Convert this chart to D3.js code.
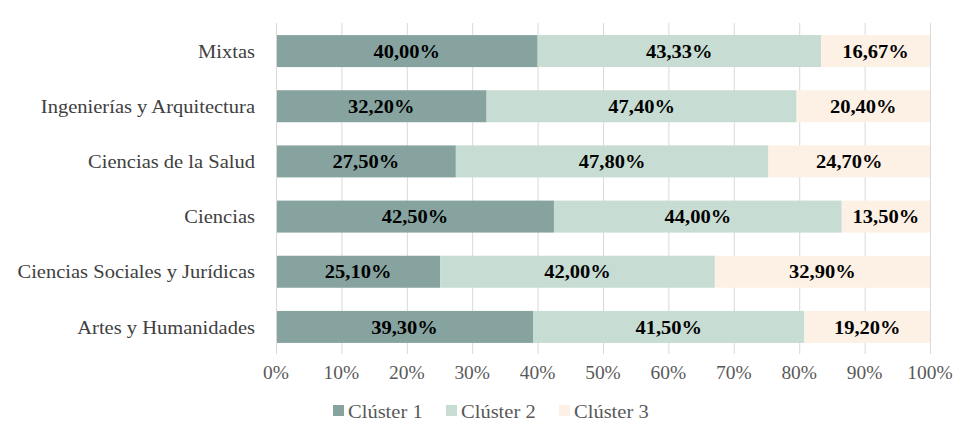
<!DOCTYPE html>
<html><head><meta charset="utf-8">
<script src="https://cdn.jsdelivr.net/npm/d3@7"></script>
<style>body{margin:0;background:#fff}svg{display:block}</style>
</head><body>
<script>
const categories = ["Mixtas","Ingenierías y Arquitectura","Ciencias de la Salud","Ciencias","Ciencias Sociales y Jurídicas","Artes y Humanidades"];
const cluster1 = [40.00, 32.20, 27.50, 42.50, 25.10, 39.30];
const cluster2 = [43.33, 47.40, 47.80, 44.00, 42.00, 41.50];
const cluster3 = [16.67, 20.40, 24.70, 13.50, 32.90, 19.20];
const seriesNames = ["Clúster 1","Clúster 2","Clúster 3"];
const colors = ["#86A3A0","#C7DCD3","#FDF1E6"];
const ticks = [0,10,20,30,40,50,60,70,80,90,100];

const W=977,H=445;
const svg=d3.select("body").append("svg").attr("width",W).attr("height",H);
const font="'Liberation Serif','Times New Roman',serif";
const SX=1.08;
const x=d3.scaleLinear().domain([0,100]).range([276,930]);
const y=d3.scaleBand().domain(categories).range([23.5,354.5]).paddingInner(0.42).paddingOuter(0.21);

// grid
svg.append("g").selectAll("line").data(ticks).join("line")
 .attr("x1",d=>x(d)+0.5).attr("x2",d=>x(d)+0.5).attr("y1",23).attr("y2",354)
 .attr("stroke","#D9D9D9").attr("stroke-width",1);

const series=[cluster1,cluster2,cluster3];
const rows=categories.map((c,i)=>{let acc=0;return series.map((s,k)=>{const r={cat:c,k,v:s[i],x0:acc,x1:acc+s[i]};acc+=s[i];return r;});}).flat();

svg.append("g").selectAll("rect").data(rows).join("rect")
 .attr("x",d=>x(d.x0)+(d.k===0?1:0)).attr("width",d=>x(d.x1)-x(d.x0)-(d.k===0?1:0))
 .attr("y",d=>y(d.cat)).attr("height",y.bandwidth()).attr("fill",d=>colors[d.k]);

svg.append("g").selectAll("text").data(rows).join("text")
 .attr("transform",d=>`translate(${x((d.x0+d.x1)/2)},${y(d.cat)+y.bandwidth()/2}) scale(${SX},1)`)
 .attr("dy","0.35em").attr("text-anchor","middle")
 .attr("font-family",font).attr("font-weight","bold").attr("font-size",19).attr("fill","#000")
 .text(d=>d.v.toFixed(2).replace(".",",")+"%");

// category labels
svg.append("g").selectAll("text").data(categories).join("text")
 .attr("transform",d=>`translate(255,${y(d)+y.bandwidth()/2}) scale(${SX},1)`)
 .attr("dy","0.35em").attr("text-anchor","end")
 .attr("font-family",font).attr("font-size",19).attr("fill","#404040").text(d=>d);

// x tick labels
svg.append("g").selectAll("text").data(ticks).join("text")
 .attr("transform",d=>`translate(${x(d)},379) scale(${SX},1)`).attr("text-anchor","middle")
 .attr("font-family",font).attr("font-size",18).attr("fill","#595959").text(d=>d+"%");

// legend
const lx=[333,446,559];
const lg=svg.append("g").selectAll("g").data(seriesNames).join("g");
lg.append("rect").attr("x",(d,i)=>lx[i]).attr("y",405).attr("width",11).attr("height",11).attr("fill",(d,i)=>colors[i]);
lg.append("text").attr("transform",(d,i)=>`translate(${lx[i]+15},411) scale(${SX},1)`).attr("dy","0.35em")
 .attr("font-family",font).attr("font-size",19).attr("fill","#595959").text(d=>d);
</script>
</body></html>
